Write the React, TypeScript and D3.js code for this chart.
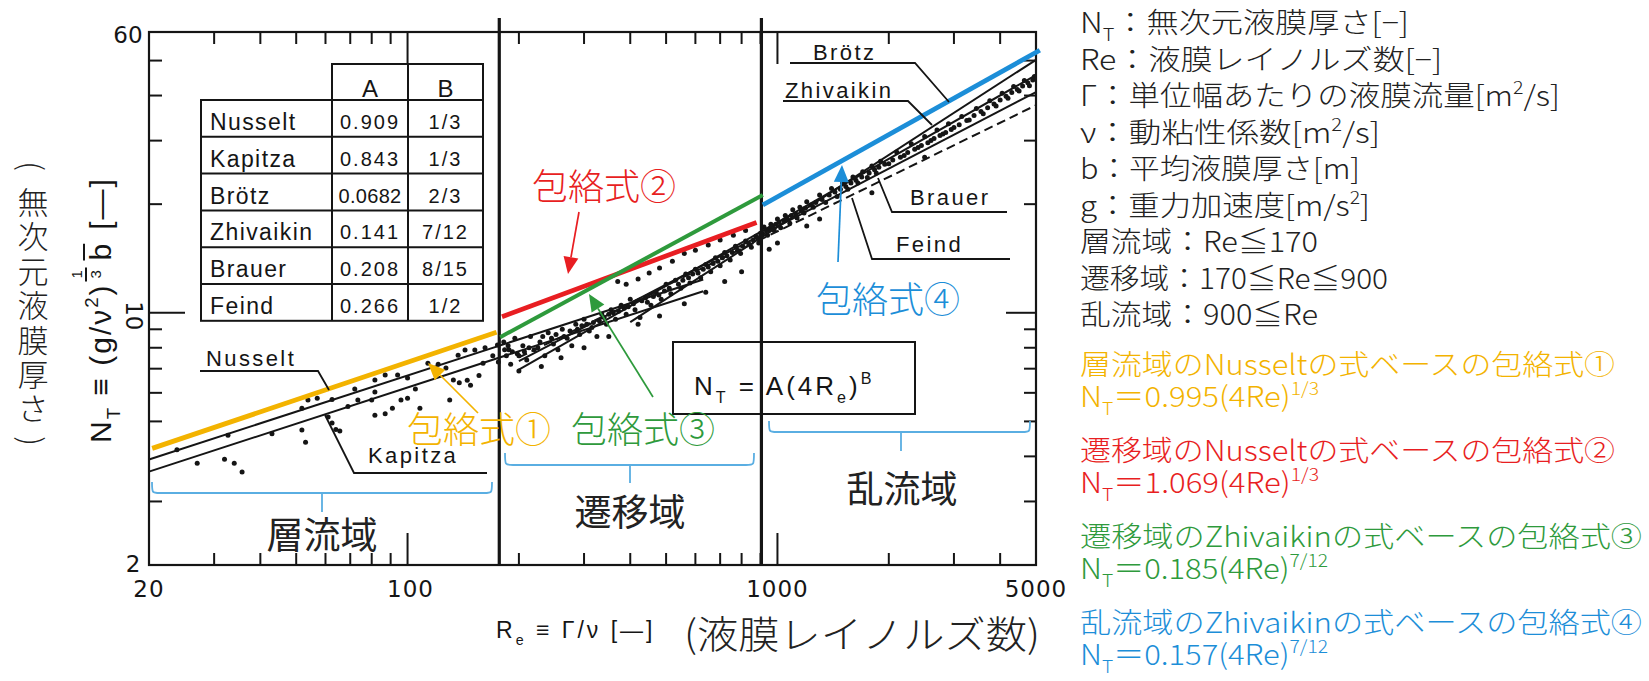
import { useEffect, useRef } from "react";
import * as d3 from "d3";

const WIDTH = 1649;
const HEIGHT = 681;

// axes
const xTickLabels = [20, 100, 1000, 5000];
const xMinorTicks = [30, 40, 50, 60, 70, 80, 90, 200, 300, 400, 500, 600, 700, 800, 900, 2000, 3000, 4000];
const xLongTicks = [100, 1000];
const yTickLabels = [2, 10, 60];
const yLeftTicks = [3, 5, 6, 7, 8, 9, 20, 30, 40, 50];
const yRightTicks = [3, 4, 5, 6, 7, 8, 9, 20, 30, 40, 50];
const yLongTicks = [10];
const regimeBounds = [177, 905];

// correlation table  N_T = A(4Re)^B
const corrNames = ["Nusselt", "Kapitza", "Brötz", "Zhivaikin", "Brauer", "Feind"];
const corrA = ["0.909", "0.843", "0.0682", "0.141", "0.208", "0.266"];
const corrB = ["1/3", "1/3", "2/3", "7/12", "8/15", "1/2"];

// correlation lines, end points [Re, N_T]
const nusseltLine = [[20, 3.92], [630, 12.37]];
const kapitzaLine = [[20, 3.63], [630, 11.47]];
const brotzLine = [[400, 9.42], [5000, 50.25]];
const zhivaikinLine = [[200, 6.96], [5000, 45.6]];
const brauerLine = [[200, 7.35], [5000, 40.9]];
const feindLine = [[200, 7.52], [5000, 37.6]];

// envelope lines (包絡式 ①..④)
const envelope1 = [[20.4, 4.21], [174, 8.83]];
const envelope2 = [[180, 9.75], [878, 17.8]];
const envelope3 = [[178, 8.56], [913, 21.2]];
const envelope4 = [[913, 19.9], [5120, 53.4]];

// measured points [Re, N_T]
const laminarPts = [
  [23.8, 4.17], [32.7, 4.58], [43, 4.62], [51.8, 4.73], [53, 4.38], [27, 3.83], [32, 3.93], [34, 3.83],
  [35.7, 3.62], [53.8, 5.73], [57, 5.8], [62.5, 5.75], [61, 5.14], [62.5, 4.95], [64, 4.75], [65.6, 4.7],
  [51.8, 5.44], [72, 6.15], [69, 5.5], [73.4, 5.73], [81.6, 6.03], [87, 6.72], [81.6, 6.51], [80, 5.73],
  [94, 6.72], [100, 6.6], [81.6, 5.2], [87, 5.25], [91, 5.44], [96, 5.73], [100, 5.8], [108, 5.44],
  [105, 6.15], [113.5, 7.25], [121, 7.2], [127, 7.03], [133, 6.51], [138, 6.4], [145, 6.5], [148, 6.3],
  [130, 5.73], [156, 6.7], [160, 7.25], [170, 7.6], [137, 7.63], [143, 7.88], [152, 7.88], [162, 8.0],
  [175, 8.14], [176, 7.3],
];
const transitionPts = [
  [182, 8.3], [185, 7.6], [188, 7.9], [190, 7.2], [195, 8.5], [198, 7.7], [205, 8.1], [210, 7.4],
  [215, 8.6], [220, 7.9], [228, 8.3], [235, 7.6], [240, 8.8], [248, 8.2], [255, 7.9], [262, 9.0],
  [270, 8.5], [278, 8.1], [285, 9.3], [292, 8.7], [300, 9.6], [310, 8.9], [318, 9.4], [325, 8.6],
  [335, 9.9], [345, 9.3], [355, 10.2], [365, 9.6], [378, 10.5], [390, 9.9], [400, 10.9], [412, 10.2],
  [425, 9.7], [440, 11.0], [455, 10.5], [470, 11.4], [485, 10.9], [500, 12.0], [515, 11.3], [530, 12.3],
  [548, 11.7], [565, 12.8], [580, 12.1], [600, 13.2], [620, 12.5], [640, 13.6], [660, 13.0], [680, 14.2],
  [700, 13.5], [720, 14.7], [745, 14.0], [770, 15.3], [795, 14.6], [820, 15.8], [850, 15.2], [875, 16.3],
  [890, 15.6], [370, 12.2], [390, 12.0], [420, 12.4], [450, 12.9], [480, 13.3], [520, 13.9], [560, 14.6],
  [600, 14.9], [650, 15.4], [700, 15.9], [760, 16.4], [820, 16.9], [200, 6.9], [230, 7.1], [260, 7.5],
  [300, 8.0], [350, 8.6], [420, 9.3], [480, 9.8], [560, 10.6], [640, 11.4], [720, 12.2], [800, 13.0],
  [183, 7.9], [187, 8.1], [192, 7.8], [200, 7.6], [207, 7.8], [213, 8.0], [225, 8.0], [232, 8.6],
  [245, 8.5], [252, 8.7], [265, 8.6], [275, 8.9], [288, 9.0], [296, 9.2], [305, 9.3], [315, 9.1],
  [330, 9.5], [340, 9.7], [350, 9.9], [360, 10.0], [372, 10.1], [385, 10.3], [395, 10.4], [408, 10.6],
  [430, 10.8], [445, 10.7], [462, 11.1], [478, 11.2], [495, 11.5], [510, 11.7], [540, 12.0], [555, 12.3],
  [575, 12.5], [590, 12.8], [610, 12.9], [630, 13.2], [650, 13.4], [670, 13.7], [690, 13.9], [710, 14.2],
  [730, 14.4], [755, 14.7], [780, 14.9], [805, 15.3], [835, 15.6], [860, 15.9], [885, 16.1], [900, 16.6],
];
const turbulentPts = [
  [920, 17.3], [940, 16.4], [960, 17.6], [980, 16.9], [1000, 18.2], [1020, 17.2], [1050, 18.6], [1080, 17.7],
  [1100, 19.3], [1130, 18.3], [1150, 19.6], [1180, 18.9], [1200, 20.3], [1250, 19.6], [1300, 21.2], [1350, 20.2],
  [1400, 22.1], [1450, 21.0], [1500, 22.9], [1550, 22.0], [1600, 23.8], [1650, 22.9], [1700, 24.6], [1750, 23.7],
  [1800, 25.5], [1850, 24.4], [1900, 26.3], [2000, 25.9], [2100, 27.9], [2200, 27.3], [2300, 29.4], [2400, 28.7],
  [2500, 30.8], [2600, 30.0], [2700, 32.1], [2800, 31.3], [2900, 33.4], [3000, 32.6], [3150, 35.0], [3300, 34.2],
  [3450, 36.8], [3600, 35.6], [3750, 38.7], [3900, 37.4], [4050, 40.6], [4200, 39.3], [4350, 42.4], [4500, 41.2],
  [4650, 44.0], [4800, 42.6], [4950, 45.2], [1800, 21.5], [1000, 15.6], [1200, 17.4], [950, 15.0], [1300, 18.2],
  [2500, 27.0], [910, 16.6], [930, 17.0], [950, 17.1], [970, 17.3], [990, 17.6], [1010, 17.8], [1040, 18.0],
  [1060, 18.3], [1090, 18.6], [1120, 18.8], [1160, 19.2], [1190, 19.5], [1230, 19.9], [1270, 20.2], [1320, 20.6],
  [1380, 21.2], [1430, 21.6], [1480, 22.0], [1530, 22.4], [1580, 22.9], [1630, 23.3], [1690, 23.8], [1770, 24.4],
  [1830, 24.9], [1880, 25.3], [1950, 25.8], [2050, 26.5], [2150, 27.0], [2250, 27.8], [2350, 28.4], [2450, 29.1],
  [2550, 29.6], [2650, 30.4], [2750, 31.0], [2850, 31.6], [2950, 32.2], [3100, 33.2], [3250, 34.1], [3400, 35.2],
  [3550, 36.1], [3700, 37.0], [3850, 37.9], [4000, 38.9], [4150, 39.8], [4300, 40.8], [4450, 41.6], [4600, 42.5],
  [4750, 43.4], [4900, 44.2],
];

// notes on the right
const noteLines = [
  [["N"], ["T", "sub"], ["：無次元液膜厚さ[−]"]],
  [["Re：液膜レイノルズ数[−]"]],
  [["Γ：単位幅あたりの液膜流量[m"], ["2", "sup"], ["/s]"]],
  [["ν：動粘性係数[m"], ["2", "sup"], ["/s]"]],
  [["b：平均液膜厚さ[m]"]],
  [["g：重力加速度[m/s"], ["2", "sup"], ["]"]],
  [["層流域：Re≦170"]],
  [["遷移域：170≦Re≦900"]],
  [["乱流域：900≦Re"]],
];
const noteWidths = [329, 362, 480, 300, 280, 290, 238, 308, 238];
const envelopeTitles = [
  "層流域のNusseltの式ベースの包絡式①",
  "遷移域のNusseltの式ベースの包絡式②",
  "遷移域のZhivaikinの式ベースの包絡式③",
  "乱流域のZhivaikinの式ベースの包絡式④",
];
const envelopeA = ["0.995", "1.069", "0.185", "0.157"];
const envelopeB = ["1/3", "1/3", "7/12", "7/12"];
const envelopeTitleWidths = [535, 535, 562, 562];
const envelopeFormulaWidths = [239, 239, 248, 248];

const COLORS = ["#F3B300", "#E81E22", "#2E9A3C", "#1C8ED8"];
const BRACE = "#5AAEE2";
const INK = "#151515";
const LETTER = "'Liberation Sans', Arial, sans-serif";
const TICKFONT = "'DejaVu Sans', sans-serif";
const JP = "'Noto Sans CJK JP', sans-serif";

const rich = (parent, x, yb, segs, fs) => {
  const t = parent.append("text").attr("x", x).attr("y", yb).attr("font-size", fs);
  let cur = 0;
  segs.forEach(([s, k]) => {
    const target = k === "sub" ? fs * 0.3 : k === "sup" ? -fs * 0.42 : 0;
    const ts = t.append("tspan").text(s).attr("dy", target - cur);
    if (k) ts.attr("font-size", fs * 0.62);
    cur = target;
  });
  return t;
};

const arrow = (g, x1, y1, x2, y2, color) => {
  const dx = x2 - x1, dy = y2 - y1;
  const L = Math.hypot(dx, dy);
  const ux = dx / L, uy = dy / L;
  const hl = 17, hw = 7.5;
  const bx = x2 - ux * hl, by = y2 - uy * hl;
  g.append("line").attr("x1", x1).attr("y1", y1).attr("x2", bx).attr("y2", by)
    .attr("stroke", color).attr("stroke-width", 1.7);
  g.append("path")
    .attr("d", `M${x2},${y2}L${bx - uy * hw},${by + ux * hw}L${bx + uy * hw},${by - ux * hw}Z`)
    .attr("fill", color);
};

const brace = (g, x0, x1, yTop, yMid, yStem, xc) => {
  g.append("path")
    .attr("d", `M${x0},${yTop}C${x0},${yMid} ${x0},${yMid} ${x0 + 8},${yMid}L${x1 - 8},${yMid}C${x1},${yMid} ${x1},${yMid} ${x1},${yTop}M${xc},${yMid}L${xc},${yStem}`)
    .attr("fill", "none").attr("stroke", BRACE).attr("stroke-width", 1.8);
};

export default function App() {
  const svgRef = useRef(null);

  useEffect(() => {
    const svg = d3.select(svgRef.current);
    svg.selectAll("*").remove();

    const x = d3.scaleLog().domain([20, 5000]).range([149, 1036]);
    const y = d3.scaleLog().domain([2, 60]).range([565, 32]);
    const [x0, x1] = x.range();
    const [y0, y1] = y.range();
    const line = d3.line().x((d) => x(d[0])).y((d) => y(d[1]));

    const g = svg.append("g");

    // measured points
    g.append("g").selectAll("circle")
      .data([...laminarPts, ...transitionPts, ...turbulentPts])
      .join("circle")
      .attr("cx", (d) => x(d[0])).attr("cy", (d) => y(d[1]))
      .attr("r", 2.5).attr("fill", INK);

    // correlation lines
    const corrLines = [
      { pts: nusseltLine, dash: null },
      { pts: kapitzaLine, dash: null },
      { pts: brotzLine, dash: null },
      { pts: zhivaikinLine, dash: null },
      { pts: brauerLine, dash: null },
      { pts: feindLine, dash: "9,5" },
    ];
    corrLines.forEach((c) => {
      g.append("path").attr("d", line(c.pts)).attr("fill", "none")
        .attr("stroke", INK).attr("stroke-width", 2)
        .attr("stroke-dasharray", c.dash);
    });

    // frame
    g.append("rect").attr("x", x0).attr("y", y1).attr("width", x1 - x0).attr("height", y0 - y1)
      .attr("fill", "none").attr("stroke", INK).attr("stroke-width", 2.2);

    // ticks
    [...xMinorTicks, ...xLongTicks].forEach((v) => {
      const len = xLongTicks.includes(v) ? 32 : 12;
      g.append("line").attr("x1", x(v)).attr("x2", x(v)).attr("y1", y0).attr("y2", y0 - len)
        .attr("stroke", INK).attr("stroke-width", 2);
      g.append("line").attr("x1", x(v)).attr("x2", x(v)).attr("y1", y1).attr("y2", y1 + len)
        .attr("stroke", INK).attr("stroke-width", 2);
    });
    [...yLeftTicks, ...yLongTicks].forEach((v) => {
      const len = yLongTicks.includes(v) ? 36 : 13;
      g.append("line").attr("x1", x0).attr("x2", x0 + len).attr("y1", y(v)).attr("y2", y(v))
        .attr("stroke", INK).attr("stroke-width", 2);
    });
    [...yRightTicks, ...yLongTicks].forEach((v) => {
      const len = yLongTicks.includes(v) ? 30 : 12;
      g.append("line").attr("x1", x1).attr("x2", x1 - len).attr("y1", y(v)).attr("y2", y(v))
        .attr("stroke", INK).attr("stroke-width", 2);
    });

    // tick labels
    xTickLabels.forEach((v) => {
      g.append("text").attr("x", x(v) + (v === 100 ? 3 : 0)).attr("y", y0 + 32)
        .attr("text-anchor", "middle").attr("font-family", TICKFONT).attr("font-size", 23)
        .attr("letter-spacing", 1).attr("fill", INK).text(v);
    });
    yTickLabels.forEach((v) => {
      if (v === 10) {
        g.append("text").attr("transform", `translate(134,${y(v) + 3}) rotate(90)`)
          .attr("text-anchor", "middle").attr("dominant-baseline", "central")
          .attr("font-family", TICKFONT).attr("font-size", 23).attr("fill", INK).text(v);
      } else {
        g.append("text").attr("x", v === 60 ? 128 : 133).attr("y", y(v) + (v === 60 ? 11 : 7))
          .attr("text-anchor", "middle").attr("font-family", TICKFONT).attr("font-size", 23)
          .attr("fill", INK).text(v);
      }
    });

    // regime boundaries
    regimeBounds.forEach((v) => {
      g.append("line").attr("x1", x(v)).attr("x2", x(v)).attr("y1", 18).attr("y2", y0)
        .attr("stroke", INK).attr("stroke-width", 3.2);
    });

    // envelope lines
    [envelope1, envelope2, envelope3, envelope4].forEach((e, i) => {
      g.append("path").attr("d", line(e)).attr("fill", "none")
        .attr("stroke", COLORS[i]).attr("stroke-width", i === 2 ? 4 : 4.8);
    });

    // table
    const tb = g.append("g").attr("stroke", INK).attr("stroke-width", 2).attr("fill", "none");
    const tx0 = 201, tc1 = 332, tc2 = 408, tx1 = 483, th0 = 64, tr0 = 100, rowH = 36.8;
    const tr1 = tr0 + rowH * corrNames.length;
    tb.append("rect").attr("x", tc1).attr("y", th0).attr("width", tx1 - tc1).attr("height", tr0 - th0);
    tb.append("rect").attr("x", tx0).attr("y", tr0).attr("width", tx1 - tx0).attr("height", tr1 - tr0);
    tb.append("line").attr("x1", tc1).attr("x2", tc1).attr("y1", tr0).attr("y2", tr1);
    tb.append("line").attr("x1", tc2).attr("x2", tc2).attr("y1", th0).attr("y2", tr1);
    corrNames.forEach((_, i) => {
      if (i > 0) tb.append("line").attr("x1", tx0).attr("x2", tx1).attr("y1", tr0 + rowH * i).attr("y2", tr0 + rowH * i);
    });
    const tt = g.append("g").attr("font-family", LETTER).attr("fill", INK);
    tt.append("text").attr("x", (tc1 + tc2) / 2).attr("y", 97).attr("text-anchor", "middle").attr("font-size", 24).text("A");
    tt.append("text").attr("x", (tc2 + tx1) / 2).attr("y", 97).attr("text-anchor", "middle").attr("font-size", 24).text("B");
    corrNames.forEach((n, i) => {
      const yb = tr0 + rowH * i + 30;
      tt.append("text").attr("x", 210).attr("y", yb).attr("font-size", 23).attr("letter-spacing", 1.4).text(n);
      tt.append("text").attr("x", (tc1 + tc2) / 2).attr("y", yb - 1).attr("text-anchor", "middle")
        .attr("font-size", 20).attr("letter-spacing", corrA[i].length > 5 ? 0.3 : 2).text(corrA[i]);
      tt.append("text").attr("x", (tc2 + tx1) / 2).attr("y", yb - 1).attr("text-anchor", "middle")
        .attr("font-size", 20).attr("letter-spacing", 2).text(corrB[i]);
    });

    // leader labels
    const leaders = [
      { t: "Nusselt", tx: 206, ty: 366, p: [[200, 371], [318, 371], [329, 390]] },
      { t: "Kapitza", tx: 368, ty: 463, p: [[325, 415], [354, 473], [487, 473]] },
      { t: "Brötz", tx: 813, ty: 60, p: [[790, 63], [915, 63], [949, 102]] },
      { t: "Zhivaikin", tx: 785, ty: 98, p: [[783, 101], [908, 101], [932, 125]] },
      { t: "Brauer", tx: 910, ty: 205, p: [[878, 178], [892, 212], [1007, 212]] },
      { t: "Feind", tx: 896, ty: 252, p: [[852, 198], [872, 259], [1010, 259]] },
    ];
    leaders.forEach((l) => {
      g.append("path").attr("d", d3.line()(l.p)).attr("fill", "none").attr("stroke", INK).attr("stroke-width", 1.8);
      g.append("text").attr("x", l.tx).attr("y", l.ty).attr("font-family", LETTER).attr("font-size", 22)
        .attr("letter-spacing", 2.4).attr("fill", INK).text(l.t);
    });

    // formula box
    g.append("rect").attr("x", 673).attr("y", 342).attr("width", 242).attr("height", 72)
      .attr("fill", "none").attr("stroke", INK).attr("stroke-width", 2);
    rich(g, 694, 395, [["N"], ["T", "sub"], [" = A(4R"], ["e", "sub"], [")"], ["B", "sup"]], 26)
      .attr("font-family", LETTER).attr("letter-spacing", 3).attr("fill", INK);

    // regime braces and labels
    brace(g, 152, 492, 482, 493, 512, 322);
    brace(g, 505, 754, 453, 465, 483, 630);
    brace(g, 769, 1030, 421, 432, 451, 901);
    [["層流域", 322, 549], ["遷移域", 630, 526], ["乱流域", 902, 503]].forEach(([s, cx, yb]) => {
      g.append("text").attr("x", cx).attr("y", yb).attr("text-anchor", "middle")
        .attr("font-family", JP).attr("font-size", 37).attr("fill", "#222").text(s);
    });

    // envelope annotations
    const ann = [
      { t: "包絡式①", x: 407, y: 443, c: 0, a: [478, 413, 428, 363] },
      { t: "包絡式②", x: 532, y: 200, c: 1, a: [579, 212, 568, 274] },
      { t: "包絡式③", x: 571, y: 443, c: 2, a: [653, 397, 589, 294] },
      { t: "包絡式④", x: 816, y: 313, c: 3, a: [838, 262, 842, 165] },
    ];
    ann.forEach((a) => {
      g.append("text").attr("x", a.x).attr("y", a.y).attr("font-family", JP).attr("font-size", 36)
        .attr("font-weight", 300).attr("fill", COLORS[a.c]).text(a.t);
      arrow(g, a.a[0], a.a[1], a.a[2], a.a[3], COLORS[a.c]);
    });

    // x axis title
    rich(g, 496, 638, [["R"], ["e", "sub"], [" ≡ Γ/ν [—]"]], 23)
      .attr("font-family", LETTER).attr("letter-spacing", 3).attr("fill", INK);
    g.append("text").attr("x", 684).attr("y", 648).attr("font-family", JP).attr("font-size", 38)
      .attr("font-weight", 300).attr("textLength", 356).attr("lengthAdjust", "spacingAndGlyphs").attr("fill", "#222")
      .text("(液膜レイノルズ数)");

    // y axis title (rotated)
    const yt = g.append("g").attr("transform", "translate(111,443) rotate(-90)")
      .attr("font-family", LETTER).attr("fill", INK);
    const p1 = rich(yt, 0, 0, [["N"], ["T", "sub"], [" ≡ (g/ν"], ["2", "sup"], [")"]], 30).attr("letter-spacing", 2);
    const len1 = p1.node().getComputedTextLength();
    const fx = len1 + 9;
    yt.append("text").attr("x", fx).attr("y", -29).attr("text-anchor", "middle").attr("font-size", 15).text("1");
    yt.append("line").attr("x1", fx - 7).attr("x2", fx + 7).attr("y1", -25).attr("y2", -25).attr("stroke", INK).attr("stroke-width", 2);
    yt.append("text").attr("x", fx).attr("y", -10).attr("text-anchor", "middle").attr("font-size", 15).text("3");
    const bx = fx + 14;
    const pb = yt.append("text").attr("x", bx).attr("y", 0).attr("font-size", 30).text("b");
    const lb = pb.node().getComputedTextLength();
    yt.append("line").attr("x1", bx).attr("x2", bx + lb).attr("y1", -27).attr("y2", -27).attr("stroke", INK).attr("stroke-width", 2);
    yt.append("text").attr("x", bx + lb + 14).attr("y", 0).attr("font-size", 30).attr("letter-spacing", 2).text("[—]");

    // vertical japanese label
    const vchars = Array.from("(無次元液膜厚さ)");
    vchars.forEach((ch, i) => {
      const cy = 166 + i * 34.4;
      const isParen = ch === "(" || ch === ")";
      g.append("text").attr("transform", `translate(33,${cy})${isParen ? " rotate(90)" : ""}`)
        .attr("text-anchor", "middle").attr("dominant-baseline", "central")
        .attr("font-family", JP).attr("font-size", 31).attr("font-weight", 300).attr("fill", "#222").text(ch);
    });

    // notes on the right
    const notes = svg.append("g").attr("font-family", JP).attr("font-weight", 300);
    noteLines.forEach((segs, i) => {
      rich(notes, 1080, 33 + i * 36.5, segs, 28).attr("fill", "#222")
        .attr("textLength", noteWidths[i]).attr("lengthAdjust", "spacingAndGlyphs");
    });
    envelopeTitles.forEach((t, i) => {
      const yb = 375 + i * 86;
      notes.append("text").attr("x", 1080).attr("y", yb).attr("font-size", 28).attr("fill", COLORS[i])
        .attr("textLength", envelopeTitleWidths[i]).attr("lengthAdjust", "spacingAndGlyphs").text(t);
      rich(notes, 1080, yb + 32, [["N"], ["T", "sub"], ["＝" + envelopeA[i] + "(4Re)"], [envelopeB[i], "sup"]], 28)
        .attr("fill", COLORS[i])
        .attr("textLength", envelopeFormulaWidths[i]).attr("lengthAdjust", "spacingAndGlyphs");
    });
  }, []);

  return (
    <svg
      ref={svgRef}
      width={WIDTH}
      height={HEIGHT}
      style={{ position: "absolute", left: 0, top: 0, background: "#fff" }}
    />
  );
}
